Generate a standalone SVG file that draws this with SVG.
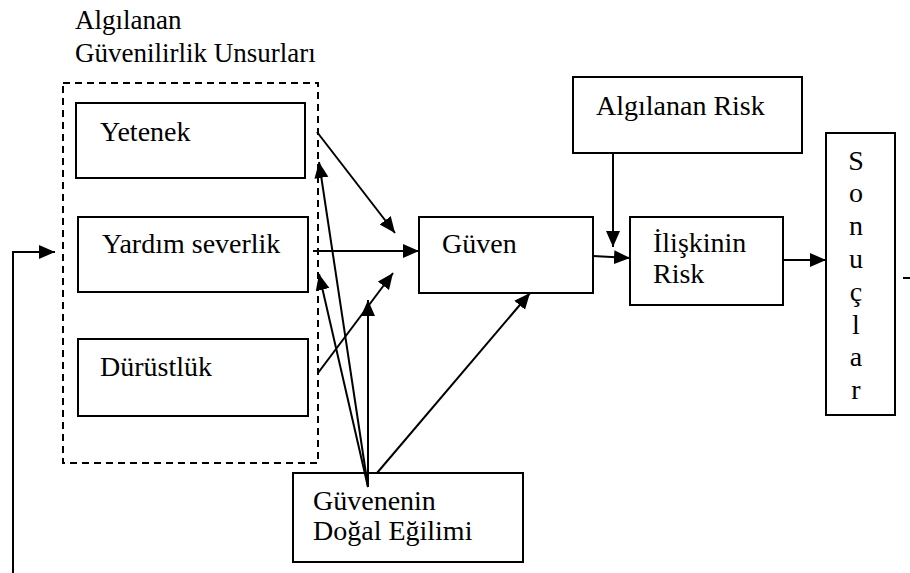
<svg xmlns="http://www.w3.org/2000/svg" width="910" height="573" viewBox="0 0 910 573">
<style>
  .box { fill: #fff; stroke: #000; stroke-width: 2; }
  .dash { fill: none; stroke: #000; stroke-width: 2; stroke-dasharray: 7 5; }
  .t { font-family: 'Liberation Serif', Tinos, 'Times New Roman', 'DejaVu Serif', serif; font-size: 28px; fill: #000; }
  .h { font-size: 27px; }
  .c { fill: none; stroke: #000; stroke-width: 2; }
  .a { marker-end: url(#ah); }
</style>
<defs>
  <marker id="ah" markerUnits="userSpaceOnUse" markerWidth="17" markerHeight="15" refX="16" refY="7" orient="auto">
    <path d="M0,0 L16,7 L0,14 z" fill="#000"/>
  </marker>
</defs>
<rect width="910" height="573" fill="#fff"/>

<g id="group-label">
  <text class="t h" x="75" y="29">Algılanan</text>
  <text class="t h" x="75" y="62">Güvenilirlik Unsurları</text>
</g>
<g id="group-frame">
  <rect class="dash" x="63" y="83" width="255" height="380"/>
</g>

<g id="yetenek">
  <rect class="box" x="76" y="103" width="229" height="75"/>
  <text class="t" x="100" y="141">Yetenek</text>
</g>
<g id="yardim">
  <rect class="box" x="78" y="217" width="230" height="75"/>
  <text class="t" x="102" y="253">Yardım severlik</text>
</g>
<g id="durustluk">
  <rect class="box" x="78" y="339" width="230" height="77"/>
  <text class="t" x="100" y="376">Dürüstlük</text>
</g>
<g id="guven">
  <rect class="box" x="419" y="217" width="174" height="76"/>
  <text class="t" x="442" y="253">Güven</text>
</g>
<g id="algilanan-risk">
  <rect class="box" x="573" y="77" width="229" height="76"/>
  <text class="t" x="596" y="115">Algılanan Risk</text>
</g>
<g id="iliskinin-risk">
  <rect class="box" x="630" y="217" width="153" height="88"/>
  <text class="t" x="653" y="252">İlişkinin</text>
  <text class="t" x="653" y="283">Risk</text>
</g>
<g id="sonuclar">
  <rect class="box" x="826" y="133" width="69" height="282"/>
  <text class="t" x="856" y="170" text-anchor="middle">S</text>
  <text class="t" x="856" y="202" text-anchor="middle">o</text>
  <text class="t" x="856" y="235" text-anchor="middle">n</text>
  <text class="t" x="856" y="268" text-anchor="middle">u</text>
  <text class="t" x="856" y="301" text-anchor="middle">ç</text>
  <text class="t" x="856" y="334" text-anchor="middle">l</text>
  <text class="t" x="856" y="366" text-anchor="middle">a</text>
  <text class="t" x="856" y="399" text-anchor="middle">r</text>
</g>
<g id="guvenenin">
  <rect class="box" x="293" y="473" width="230" height="89"/>
  <text class="t" x="313" y="510">Güvenenin</text>
  <text class="t" x="313" y="540">Doğal Eğilimi</text>
</g>

<g id="connectors">
  <polyline class="c a" points="13,573 13,252 55,252"/>
  <line class="c a" x1="317" y1="132" x2="395" y2="233"/>
  <line class="c a" x1="313" y1="251" x2="419" y2="251"/>
  <line class="c a" x1="318" y1="373" x2="393" y2="273"/>
  <line class="c a" x1="368" y1="487" x2="319" y2="162"/>
  <line class="c a" x1="368" y1="487" x2="319" y2="274"/>
  <line class="c a" x1="368" y1="487" x2="368" y2="300"/>
  <line class="c a" x1="377" y1="473" x2="530" y2="293"/>
  <line class="c a" x1="593" y1="256" x2="630" y2="258"/>
  <line class="c a" x1="613" y1="153" x2="613" y2="247"/>
  <line class="c a" x1="783" y1="260" x2="826" y2="260"/>
  <line class="c" x1="903" y1="278" x2="910" y2="278"/>
</g>
</svg>
